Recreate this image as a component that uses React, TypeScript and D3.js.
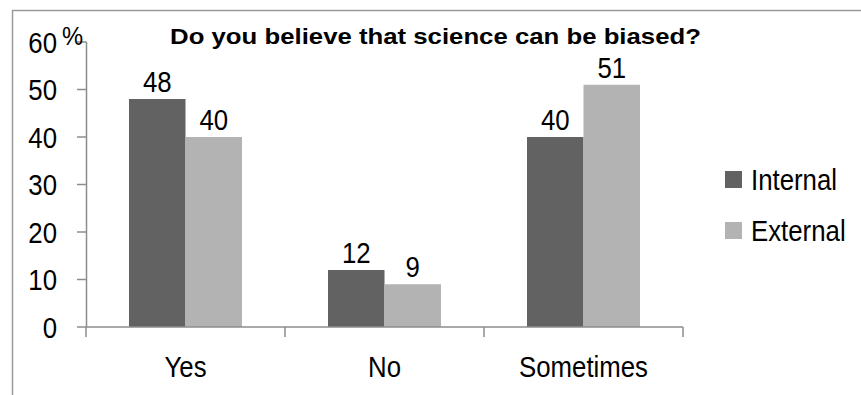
import React, { useEffect } from "react";
import * as d3 from "d3";

const categories = ["Yes", "No", "Sometimes"];
const seriesNames = ["Internal", "External"];
const internalValues = [48, 12, 40];
const externalValues = [40, 9, 51];
const yTicks = [0, 10, 20, 30, 40, 50, 60];
const title = "Do you believe that science can be biased?";

const W = 861;
const H = 395;
const colors = ["#626262", "#b3b3b3"];
const FONT = "'Liberation Sans', Arial, sans-serif";

type TProps = {
  x: number;
  y: number;
  sx?: number;
  size?: number;
  anchor?: "start" | "middle" | "end";
  bold?: boolean;
  dy?: string;
  children: React.ReactNode;
};

function T({ x, y, sx = 0.86, size = 30, anchor = "start", bold = false, dy, children }: TProps) {
  return (
    <text
      transform={`translate(${x},${y}) scale(${sx},1)`}
      textAnchor={anchor}
      fontSize={size}
      fontWeight={bold ? "bold" : "normal"}
      dy={dy}
      fill="#000"
    >
      {children}
    </text>
  );
}

export default function App() {
  useEffect(() => {
    document.body.style.margin = "0";
  }, []);

  const x0 = d3.scaleBand<string>().domain(categories).range([86, 683]).paddingInner(0).paddingOuter(0);
  const y = d3.scaleLinear().domain([0, 60]).range([327, 42]);
  const groupPad = 43;
  const x1 = d3
    .scaleBand<string>()
    .domain(seriesNames)
    .range([groupPad, x0.bandwidth() - groupPad])
    .padding(0);
  const series = [internalValues, externalValues];
  const axisColor = "#8c8c8c";

  return (
    <svg width={W} height={H} style={{ display: "block", background: "#fff" }} fontFamily={FONT}>
      {/* frame */}
      <line x1={12} x2={W} y1={10.5} y2={10.5} stroke="#9a9a9a" strokeWidth={1.5} />
      <line x1={12.5} x2={12.5} y1={10} y2={H} stroke="#9a9a9a" strokeWidth={1.5} />

      {/* title */}
      <T x={435.5} y={44} anchor="middle" bold size={23} sx={1.12}>
        {title}
      </T>

      {/* bars */}
      {categories.map((c, i) => (
        <g key={c} transform={`translate(${x0(c)},0)`}>
          {seriesNames.map((s, j) => {
            const v = series[j][i];
            const bx = x1(s)!;
            return (
              <g key={s}>
                <rect x={bx} y={y(v)} width={x1.bandwidth()} height={y(0) - y(v)} fill={colors[j]} />
                <T x={bx + x1.bandwidth() / 2} y={y(v) - 7} anchor="middle">
                  {v}
                </T>
              </g>
            );
          })}
        </g>
      ))}

      {/* y axis */}
      <line x1={86.5} x2={86.5} y1={y(60)} y2={y(0)} stroke={axisColor} strokeWidth={1.5} />
      {yTicks.map((t) => (
        <g key={t}>
          <line x1={77} x2={86.5} y1={y(t)} y2={y(t)} stroke={axisColor} strokeWidth={1.5} />
          <T x={57} y={y(t)} dy="0.36em" anchor="end">
            {t}
          </T>
        </g>
      ))}
      <T x={62} y={45} size={25} sx={0.95}>%</T>

      {/* x axis */}
      <line x1={86} x2={683} y1={y(0)} y2={y(0)} stroke={axisColor} strokeWidth={1.5} />
      {[...categories.map((c) => x0(c)!), x0.range()[1]].map((tx, i) => (
        <line key={i} x1={tx} x2={tx} y1={y(0)} y2={y(0) + 10} stroke={axisColor} strokeWidth={1.5} />
      ))}
      {categories.map((c) => (
        <T key={c} x={x0(c)! + x0.bandwidth() / 2} y={377} anchor="middle">
          {c}
        </T>
      ))}

      {/* legend */}
      {seriesNames.map((s, j) => (
        <g key={s} transform={`translate(725,${171 + j * 51})`}>
          <rect x={0} y={0} width={17} height={17} fill={colors[j]} />
          <T x={26} y={19}>
            {s}
          </T>
        </g>
      ))}
    </svg>
  );
}
